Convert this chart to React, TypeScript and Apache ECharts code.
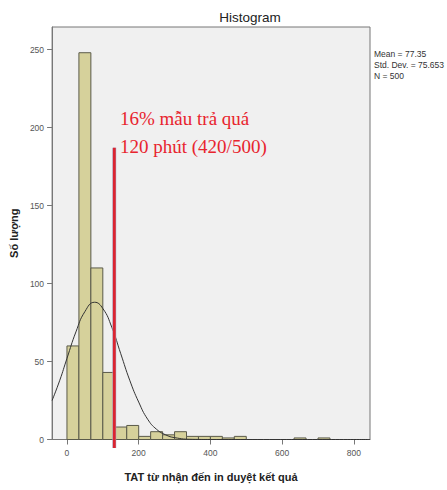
import React, { useEffect, useRef } from "react";
import * as echarts from "echarts";

// Histogram data (bin width 33.33, starting at 0)
const binWidth = 800 / 24;
const binCounts = [60, 248, 110, 43, 8, 9, 2, 5, 3, 5, 2, 2, 2, 1, 2, 0, 0, 0, 0, 1, 0, 1, 0, 0];

// Normal curve
const curveX = [-41.5, -20, 0, 25, 50, 77, 100, 125, 150, 175, 200, 225, 250, 275, 300, 350, 400, 500, 845];
const curveY = [25, 38, 52, 69, 82, 88, 84, 72, 55, 38, 24, 13, 6.5, 3, 1.2, 0.1, 0, 0, 0];

// Marker line
const markerX = 132;
const markerY = [-5.5, 187];

const xTicks = [0, 200, 400, 600, 800];
const yTicks = [0, 50, 100, 150, 200, 250];

const statsLines = ["Mean = 77.35", "Std. Dev. = 75.653", "N = 500"];
const annotation = ["16% mẫu trả quá", "120 phút (420/500)"];

const SANS = "'Liberation Sans', Arial, sans-serif";
const SERIF = "'Liberation Serif', 'Times New Roman', serif";

export default function App() {
  const ref = useRef<HTMLDivElement>(null);
  useEffect(() => {
    document.body.style.margin = "0";
    const chart = echarts.init(ref.current!, null, { renderer: "svg" });
    const barData = binCounts
      .map((c, i) => [i * binWidth, (i + 1) * binWidth, c])
      .filter((d) => d[2] > 0);
    chart.setOption({
      animation: false,
      backgroundColor: "#ffffff",
      title: {
        text: "Histogram",
        left: 245,
        top: 5,
        textAlign: "center",
        textStyle: { fontFamily: SANS, fontSize: 13.5, fontWeight: "normal", color: "#222" },
      },
      grid: {
        left: 49,
        right: 77,
        top: 27,
        bottom: 50.5,
        show: true,
        backgroundColor: "#f0f0f0",
        borderColor: "#777",
        borderWidth: 1,
      },
      xAxis: {
        type: "value",
        min: -41.5,
        max: 845,
        name: "TAT từ nhận đến in duyệt kết quả",
        nameLocation: "middle",
        nameGap: 32,
        nameTextStyle: { fontFamily: SANS, fontSize: 11, fontWeight: "bold", color: "#222" },
        axisLine: { show: true, onZero: false, lineStyle: { color: "#777" } },
        axisTick: { show: true, length: 5, lineStyle: { color: "#777" }, customValues: xTicks },
        axisLabel: { fontFamily: SANS, fontSize: 8.5, color: "#555", margin: 9, customValues: xTicks },
        splitLine: { show: false },
      },
      yAxis: {
        type: "value",
        min: 0,
        max: 264.5,
        name: "Số lượng",
        nameLocation: "middle",
        nameGap: 27,
        nameTextStyle: { fontFamily: SANS, fontSize: 11, fontWeight: "bold", color: "#222" },
        axisLine: { show: true, onZero: false, lineStyle: { color: "#777" } },
        axisTick: { show: true, length: 5, lineStyle: { color: "#777" }, customValues: yTicks },
        axisLabel: { fontFamily: SANS, fontSize: 8.5, color: "#555", margin: 8, customValues: yTicks },
        splitLine: { show: false },
      },
      series: [
        {
          type: "custom",
          data: barData,
          renderItem: (params: any, api: any) => {
            const p1 = api.coord([api.value(0), api.value(2)]);
            const p2 = api.coord([api.value(1), 0]);
            return {
              type: "rect",
              shape: { x: p1[0], y: p1[1], width: p2[0] - p1[0], height: p2[1] - p1[1] },
              style: { fill: "#d6d19b", stroke: "#5a5a4a", lineWidth: 1 },
            };
          },
          z: 2,
        },
        {
          type: "line",
          data: curveX.map((x, i) => [x, curveY[i]]),
          smooth: true,
          symbol: "none",
          lineStyle: { color: "#333", width: 1 },
          z: 3,
        },
        {
          type: "line",
          data: markerY.map((y) => [markerX, y]),
          symbol: "none",
          clip: false,
          lineStyle: { color: "#a4a8c4", width: 3.8 },
          z: 4,
        },
        {
          type: "line",
          data: markerY.map((y) => [markerX, y]),
          symbol: "none",
          clip: false,
          lineStyle: { color: "#dc2430", width: 2.8 },
          z: 5,
        },
      ],
      graphic: [
        {
          type: "text",
          left: 374,
          top: 48,
          style: {
            text: statsLines.join("\n"),
            fontFamily: SANS,
            fontSize: 8.5,
            lineHeight: 11,
            fill: "#333",
          },
        },
        {
          type: "text",
          left: 120,
          top: 104,
          style: {
            text: annotation.join("\n"),
            fontFamily: SERIF,
            fontSize: 19,
            lineHeight: 28,
            fill: "#e8242e",
          },
        },
      ],
    });
    return () => chart.dispose();
  }, []);
  return <div ref={ref} style={{ width: 447, height: 490 }} />;
}
